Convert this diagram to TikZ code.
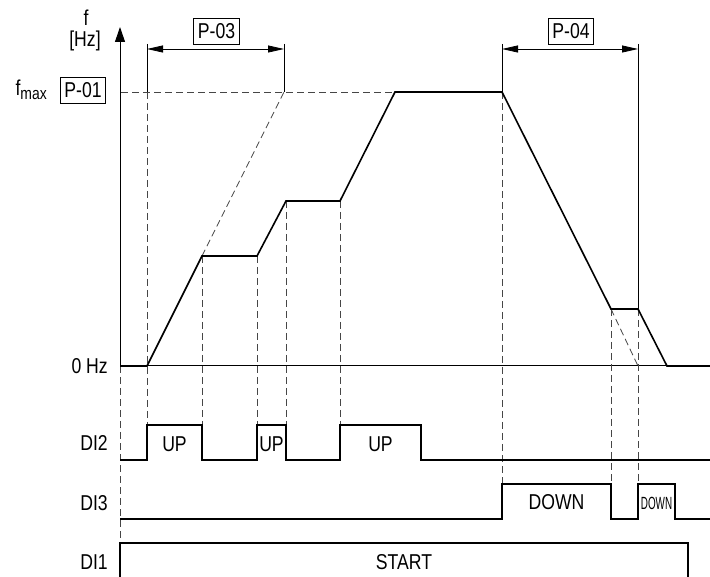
\documentclass[tikz,border=0pt]{standalone}
\usepackage{fontspec}
\setmainfont[FakeStretch=0.82]{Liberation Sans}
\usetikzlibrary{arrows.meta,positioning}
\definecolor{guide_gray}{RGB}{70,70,70}

\tikzset{
  sig/.style={line width=1.6pt,black,line join=miter},
  guide/.style={guide_gray,line width=0.8pt,dash pattern=on 7pt off 4pt},
  parbox/.style={draw,line width=0.8pt,minimum height=26pt,inner xsep=4pt,inner ysep=0pt},
  lbl/.style={anchor=east,inner sep=0pt},
  dimarrow/.style={line width=0.8pt,{Triangle[length=16pt,width=7pt]}-{Triangle[length=16pt,width=7pt]}},
}

\begin{document}
\begin{tikzpicture}[x=1pt,y=-1pt,font=\fontsize{21.5}{23}\selectfont]
  \useasboundingbox (0,0) rectangle (710,577);
  % axis and labels
  \draw[line width=1pt,-{Triangle[length=15pt,width=10pt]}] (120,366) -- (120,27);
  \draw[line width=1pt] (120,366) -- (710,366);
  \node[inner sep=0pt] (fsym) at (86,18) {f};
  \node[inner sep=0pt] (funit) at (85,41) {[Hz]};
  \node[lbl] (fmax) at (47,90) {f\raisebox{-4pt}{\fontsize{17}{17}\selectfont max}};
  \node[parbox] (p01) at (83,90) {P-01};
  \node[lbl] (zero) at (108,366) {0 Hz};
  \node[lbl] (di2) at (108,443) {DI2};
  \node[lbl] (di3) at (108,503) {DI3};
  \node[lbl] (di1) at (108,562) {DI1};
  % ramp times
  \coordinate (a1) at (147,49);
  \coordinate (a2) at (284,49);
  \coordinate (b1) at (502,49);
  \coordinate (b2) at (638,49);
  \draw[line width=0.8pt] (147,44) -- (147,92) (284,44) -- (284,92);
  \draw[line width=0.8pt] (502,44) -- (502,92) (638,44) -- (638,309);
  \draw[dimarrow] (a1) -- (a2);
  \draw[dimarrow] (b1) -- (b2);
  \node[parbox] (p03) at (216.5,31) {P-03};
  \node[parbox] (p04) at (571,31) {P-04};
  % guides
  \draw[guide] (121,92) -- (395,92);
  \draw[guide] (202,256) -- (284,92);
  \draw[guide] (611,309) -- (638,366);
  \draw[guide] (120,366) -- (120,543);
  \draw[guide] (147,92) -- (147,425);
  \draw[guide] (202,256) -- (202,425);
  \draw[guide] (257,256) -- (257,425);
  \draw[guide] (286,201) -- (286,425);
  \draw[guide] (340,201) -- (340,425);
  \draw[guide] (502,92) -- (502,484);
  \draw[guide] (611,309) -- (611,484);
  \draw[guide] (638,309) -- (638,484);
  % frequency
  \draw[sig] (120,366) -- (147,366) -- (202,256) -- (257,256) -- (286,201)
    -- (340,201) -- (395,92) -- (502,92) -- (611,309) -- (638,309)
    -- (667,366) -- (710,366);
  % DI2
  \draw[sig] (120,460) -- (147,460) -- (147,425) -- (202,425) -- (202,460)
    -- (257,460) -- (257,425) -- (286,425) -- (286,460) -- (340,460)
    -- (340,425) -- (421,425) -- (421,460) -- (710,460);
  \node (up1) at (174.5,444) {UP};
  \node[inner sep=0pt] (up2) at (271.5,444) {UP};
  \node (up3) at (380.5,444) {UP};
  % DI3
  \draw[sig] (120,519) -- (502,519) -- (502,484) -- (611,484) -- (611,519)
    -- (638,519) -- (638,484) -- (675,484) -- (675,519) -- (710,519);
  \node (down1) at (556.5,502) {DOWN};
  \node[inner sep=0pt] (down2) at (656.5,503) {\scalebox{0.56}[0.82]{DOWN}};
  % DI1
  \draw[sig] (120,577) -- (120,543) -- (688,543) -- (688,577);
  \node (start) at (404,562) {START};
\end{tikzpicture}
\end{document}
